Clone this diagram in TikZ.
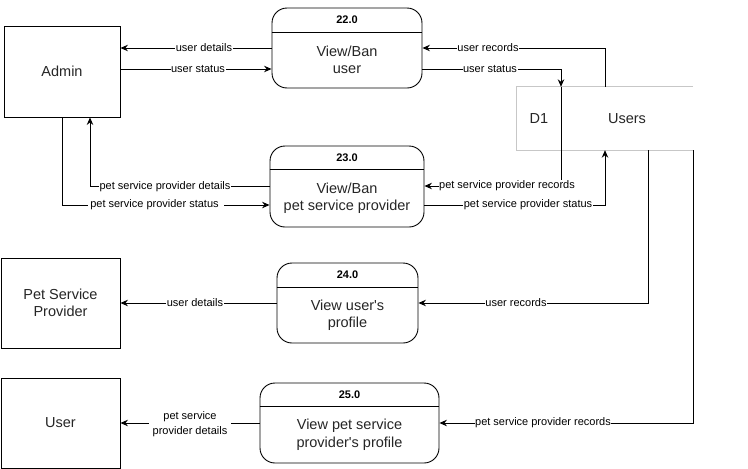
\documentclass[tikz,border=0pt]{standalone}
\usepackage{fontspec}
\setmainfont{Liberation Sans}[Ligatures=TeXOff]
\usetikzlibrary{arrows.meta,calc}
\tikzset{
  every picture/.style={x=1pt,y=-1pt},
  bigtxt/.style={font=\fontsize{14.5}{17.5}\selectfont, text=black!85, align=center},
  ent/.style={draw, line width=0.9pt, inner sep=0pt, bigtxt},
  proc/.style={draw, line width=0.9pt, rounded corners=15pt, inner sep=0pt},
  hdr/.style={font=\bfseries\fontsize{11}{13}\selectfont, inner sep=0pt},
  lbl/.style={font=\fontsize{11}{13}\selectfont, fill=white, inner sep=0.6pt, align=center},
  arr/.style={draw, line width=0.9pt, -{Stealth[length=7.5pt,width=6.5pt,inset=2.5pt]}},
  ln/.style={draw, line width=0.9pt},
  storeline/.style={draw=black!22, line width=1pt}
}
\begin{document}
\begin{tikzpicture}
\useasboundingbox[fill=white] (0,0) rectangle (748,469);

% external entities
\node[ent, minimum width=116pt, minimum height=91pt] (admin) at (62,71.5) {Admin};
\node[ent, minimum width=119pt, minimum height=90pt] (psp) at (60.5,303) {Pet Service\\Provider};
\node[ent, minimum width=119pt, minimum height=90pt] (user) at (60.5,423) {User};

% data store
\node[minimum width=176pt, minimum height=63pt, inner sep=0pt] (users) at (605,118.5) {};
\draw[storeline] (users.north east) -- (users.north west) -- (users.south west) -- (users.south east);
\node[bigtxt, inner sep=0pt] (d1) at (539,119) {D1};
\node[bigtxt, inner sep=0pt] (usrtxt) at (627,119) {Users};

% processes
\node[proc, minimum width=150pt, minimum height=80pt] (p22) at (347,48) {};
\draw[ln] (p22.west |- 0,32) -- (p22.east |- 0,32);
\node[hdr] (h22) at (347,20) {22.0};
\node[bigtxt] (t22) at (347,60) {View/Ban\\user};

\node[proc, minimum width=154pt, minimum height=81pt] (p23) at (347,186.5) {};
\draw[ln] (p23.west |- 0,169) -- (p23.east |- 0,169);
\node[hdr] (h23) at (347,157.5) {23.0};
\node[bigtxt] (t23) at (347,198) {View/Ban\\pet service provider};

\node[proc, minimum width=141pt, minimum height=80pt] (p24) at (347.5,303) {};
\draw[ln] (p24.west |- 0,287) -- (p24.east |- 0,287);
\node[hdr] (h24) at (347.5,275) {24.0};
\node[bigtxt] (t24) at (347.5,315) {View user's\\profile};

\node[proc, minimum width=179pt, minimum height=80pt] (p25) at (349.5,423) {};
\draw[ln] (p25.west |- 0,406) -- (p25.east |- 0,406);
\node[hdr] (h25) at (349.5,394.5) {25.0};
\node[bigtxt] (t25) at (349.5,434.5) {View pet service\\provider's profile};

% connectors
\draw[arr] (p22.west |- 0,48) -- (admin.east |- 0,48);
\draw[arr] (admin.east |- 0,69) -- (p22.west |- 0,69);
\draw[arr] (users.north -| 605,0) |- (p22.east |- 0,48);
\draw[arr] (p22.east |- 0,69) -| (users.north -| 561,0);
\draw[ln] (users.north -| 561,0) -- (561,186);
\draw[arr] (561,186) -- (p23.east |- 0,186);
\draw[arr] (p23.west |- 0,186) -| (admin.south -| 90,0);
\draw[arr] (admin.south -| 62,0) |- (p23.west |- 0,205);
\draw[arr] (p23.east |- 0,205) -| (users.south -| 605,0);
\draw[arr] (p24.west |- 0,303) -- (psp.east |- 0,303);
\draw[arr] (users.south -| 648,0) |- (p24.east |- 0,303);
\draw[arr] (p25.west |- 0,423) -- (user.east |- 0,423);
\draw[arr] (users.south east) |- (p25.east |- 0,423);

% labels
\node[lbl] (l1) at (204,48) {user details};
\node[lbl] (l2) at (198,69) {user status};
\node[lbl] (l3) at (488,48) {user records};
\node[lbl] (l4) at (490,69) {user status};
\node[lbl] (l5) at (165,187) {pet service provider details};
\node[lbl, inner xsep=2pt] (l6) at (156,205) {pet service provider status };
\node[lbl] (l7) at (507,186) {pet service provider records};
\node[lbl] (l8) at (528,205) {pet service provider status};
\node[lbl] (l9) at (195,303) {user details};
\node[lbl] (l10) at (516,303) {user records};
\node[lbl, inner xsep=4pt, font=\fontsize{11}{15}\selectfont] (l11) at (190,424) {pet service\\provider details};
\node[lbl] (l12) at (543,423) {pet service provider records};
\end{tikzpicture}
\end{document}
